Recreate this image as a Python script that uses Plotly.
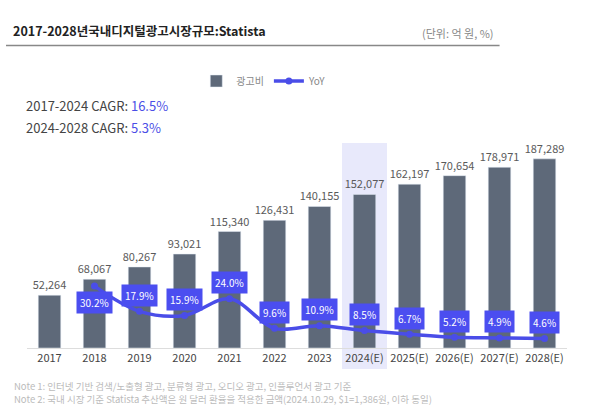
import plotly.graph_objects as go

categories = ["2017", "2018", "2019", "2020", "2021", "2022", "2023",
              "2024(E)", "2025(E)", "2026(E)", "2027(E)", "2028(E)"]
ad_spend = [52264, 68067, 80267, 93021, 115340, 126431, 140155,
            152077, 162197, 170654, 178971, 187289]
yoy_categories = categories[1:]
yoy = [30.2, 17.9, 15.9, 24.0, 9.6, 10.9, 8.5, 6.7, 5.2, 4.9, 4.6]
yoy_label_below = [True] + [False] * 10

W, H = 596, 417
L, R, T, B = 27, 28.5, 143, 69
PW, PH = W - L - R, H - T - B

def px_x(px):
    return (px - L) / PW

def px_y(py):
    return (H - B - py) / PH

FONT = "Noto Sans CJK KR, Noto Sans, sans-serif"
BAR_C = "#5e6979"
BLUE = "#4a4de8"

fig = go.Figure()
fig.add_trace(go.Bar(
    x=categories, y=ad_spend, name="광고비",
    marker=dict(color=BAR_C), width=0.5,
    text=[f"{v:,}" for v in ad_spend], textposition="outside",
    constraintext="none",
    textfont=dict(size=11, color="#5a5a5a", family=FONT),
    cliponaxis=False,
))
fig.add_trace(go.Scatter(
    x=yoy_categories, y=yoy, name="YoY", yaxis="y2",
    mode="lines+markers",
    line=dict(color=BLUE, width=3.5, shape="spline", smoothing=1.0),
    marker=dict(color=BLUE, size=7),
))

annotations = []
for c, v, below in zip(yoy_categories, yoy, yoy_label_below):
    annotations.append(dict(
        x=categories.index(c), y=v, xref="x", yref="y2", text=f"{v:.1f}%",
        showarrow=False, yshift=-16 if below else 16,
        bgcolor="#4b4ef0", borderpad=3,
        font=dict(size=10, color="white", family=FONT),
    ))

annotations += [
    dict(x=px_x(11), y=px_y(31), xref="paper", yref="paper", xanchor="left", yanchor="middle",
         text="<b>2017-2028년국내디지털광고시장규모:Statista</b>", showarrow=False,
         font=dict(size=12.5, color="#222222", family=FONT)),
    dict(x=px_x(496), y=px_y(33), xref="paper", yref="paper", xanchor="right", yanchor="middle",
         text="(단위: 억 원, %)", showarrow=False,
         font=dict(size=11, color="#888888", family=FONT)),
    dict(x=px_x(24), y=px_y(105), xref="paper", yref="paper", xanchor="left", yanchor="middle",
         text="2017-2024 CAGR: <span style='color:#4b4ee6'>16.5%</span>", showarrow=False,
         font=dict(size=13, color="#444444", family=FONT)),
    dict(x=px_x(24), y=px_y(128), xref="paper", yref="paper", xanchor="left", yanchor="middle",
         text="2024-2028 CAGR: <span style='color:#4b4ee6'>5.3%</span>", showarrow=False,
         font=dict(size=13, color="#444444", family=FONT)),
    dict(x=px_x(12), y=px_y(385.5), xref="paper", yref="paper", xanchor="left", yanchor="middle",
         text="Note 1: 인터넷 기반 검색/노출형 광고, 분류형 광고, 오디오 광고, 인플루언서 광고 기준",
         showarrow=False, font=dict(size=9.5, color="#bbbbbb", family=FONT)),
    dict(x=px_x(12), y=px_y(398.5), xref="paper", yref="paper", xanchor="left", yanchor="middle",
         text="Note 2: 국내 시장 기준 Statista 추산액은 원 달러 환율을 적용한 금액(2024.10.29, $1=1,386원, 이하 동일)",
         showarrow=False, font=dict(size=9.5, color="#bbbbbb", family=FONT)),
]

shapes = [
    dict(type="rect", xref="x", yref="paper", x0=6.5, x1=7.5,
         y0=px_y(369), y1=px_y(143), fillcolor="#e8e9fb", line=dict(width=0), layer="below"),
    dict(type="line", xref="paper", yref="paper", x0=px_x(6), x1=px_x(500),
         y0=px_y(45.5), y1=px_y(45.5), line=dict(color="#888888", width=1.5)),
]

fig.update_layout(
    width=W, height=H, margin=dict(l=L, r=R, t=T, b=B, autoexpand=False),
    paper_bgcolor="white", plot_bgcolor="rgba(0,0,0,0)",
    font=dict(family=FONT),
    showlegend=True,
    legend=dict(orientation="h", x=px_x(264), xanchor="center", y=px_y(81), yanchor="middle",
                font=dict(size=10, color="#888888", family=FONT), bgcolor="rgba(0,0,0,0)"),
    xaxis=dict(type="category", range=[-0.5, len(categories) - 0.5], showline=True,
               linecolor="#dddddd", linewidth=1, automargin=False,
               showgrid=False, ticks="", tickfont=dict(size=11, color="#444444", family=FONT)),
    yaxis=dict(range=[0, 203000], visible=False, showgrid=False),
    yaxis2=dict(range=[0, 100], overlaying="y", visible=False, showgrid=False),
    annotations=annotations, shapes=shapes, bargap=0.5,
)

fig.write_html("out.html", config={"displayModeBar": False},
               post_script="document.body.style.margin='0';document.body.style.overflow='hidden';")
